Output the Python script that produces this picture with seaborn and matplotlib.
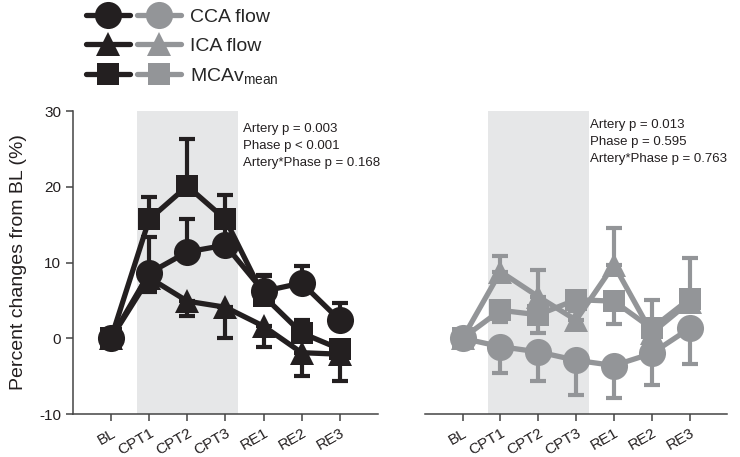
"""
Percent change from baseline across CPT and recovery phases
"""

import numpy as np
import pandas as pd
import matplotlib
matplotlib.use("Agg")
import matplotlib.pyplot as plt
from matplotlib.lines import Line2D
from matplotlib.legend_handler import HandlerTuple
import seaborn as sns

# --- data ---
phases = ["BL", "CPT1", "CPT2", "CPT3", "RE1", "RE2", "RE3"]

# left panel (black)
left_cca = [0, 8.6, 11.4, 12.3, 6.2, 7.3, 2.4]
left_cca_err = [0, 4.8, 4.4, 3.0, 2.0, 2.3, 2.3]      # upward
left_ica = [0, 8.0, 4.9, 4.1, 1.6, -1.9, -2.1]
left_ica_err = [0, 1.9, 2.0, 4.0, 2.7, 3.1, 3.5]       # downward
left_mca = [0, 15.7, 20.1, 15.7, 5.6, 0.7, -1.4]
left_mca_err = [0, 3.0, 6.2, 3.2, 2.7, 1.7, 1.0]       # upward

# right panel (gray)
right_cca = [0, -1.1, -1.8, -2.9, -3.6, -2.0, 1.3]
right_cca_err = [0, 3.5, 3.9, 4.6, 4.3, 4.2, 4.7]      # downward
right_ica = [0, 8.8, 5.5, 2.4, 9.7, 0.7, 4.8]
right_ica_err = [0, 2.0, 3.5, 1.5, 4.8, 4.4, 5.8]      # upward
right_mca = [0, 3.7, 3.1, 5.1, 4.9, 1.3, 5.2]
right_mca_err = [0, 1.5, 2.4, 1.5, 3.0, 1.0, 1.0]      # downward

left_stats = "Artery p = 0.003\nPhase p < 0.001\nArtery*Phase p = 0.168"
right_stats = "Artery p = 0.013\nPhase p = 0.595\nArtery*Phase p = 0.763"

BLACK = "#231f20"
GRAY = "#939598"
SHADE = "#e6e7e8"

sns.set_style("ticks")
plt.rcParams["font.family"] = ["Liberation Sans", "DejaVu Sans"]
plt.rcParams["mathtext.fontset"] = "custom"
plt.rcParams["mathtext.rm"] = "Liberation Sans"
plt.rcParams["mathtext.it"] = "Liberation Sans"
plt.rcParams["axes.unicode_minus"] = False

markers = {"CCA": "o", "ICA": "^", "MCA": "s"}
msizes = {"CCA": 19.5, "ICA": 17.5, "MCA": 16.5}
LW = 3.8


def draw_panel(ax, series, color, stats_text, text_xy):
    x = np.arange(len(phases))
    ax.axvspan(0.67, 3.33, color=SHADE, lw=0, zorder=0)

    # error bars (one-sided), drawn behind the lines
    for name, (vals, err, up) in series.items():
        vals = np.asarray(vals, float)
        err = np.asarray(err, float)
        yerr = [np.zeros_like(err), err] if up else [err, np.zeros_like(err)]
        ax.errorbar(x, vals, yerr=yerr, fmt="none", ecolor=color,
                    elinewidth=3, capsize=6, capthick=3, zorder=2)

    rows = []
    for name, (vals, err, up) in series.items():
        for i, v in enumerate(vals):
            rows.append({"x": i, "value": v, "measure": name})
    df = pd.DataFrame(rows)

    for name in series:
        sub = df[df["measure"] == name]
        sns.lineplot(data=sub, x="x", y="value", ax=ax, color=color,
                     lw=LW, marker=markers[name], markersize=msizes[name],
                     markeredgewidth=0, zorder=3, legend=False)

    ax.set_xlim(-1, 7)
    ax.set_ylim(-10, 30)
    ax.set_xticks(x)
    ax.set_xticklabels(phases, rotation=30, ha="right", rotation_mode="anchor",
                       fontsize=11)
    ax.set_xlabel("")
    ax.set_ylabel("")
    ax.tick_params(axis="both", direction="out", length=5, width=1.1,
                   color="#444444", labelsize=11, labelcolor="#231f20")
    ax.text(text_xy[0], text_xy[1], stats_text, fontsize=9.5, va="top",
            ha="left", linespacing=1.55, color="#231f20", zorder=5)
    for s in ax.spines.values():
        s.set_color("#444444")
        s.set_linewidth(1.1)


fig = plt.figure(figsize=(7.4, 4.57), dpi=100)
ax1 = fig.add_axes([0.0986, 0.094, 0.412, 0.663])
ax2 = fig.add_axes([0.574, 0.094, 0.409, 0.663])

draw_panel(ax1, {"CCA": (left_cca, left_cca_err, True),
                 "ICA": (left_ica, left_ica_err, False),
                 "MCA": (left_mca, left_mca_err, True)},
           BLACK, left_stats, (3.45, 28.4))
sns.despine(ax=ax1)
ax1.set_yticks([-10, 0, 10, 20, 30])
ax1.set_ylabel("Percent changes from BL (%)", fontsize=14, color="#231f20",
               labelpad=9)

draw_panel(ax2, {"CCA": (right_cca, right_cca_err, False),
                 "ICA": (right_ica, right_ica_err, True),
                 "MCA": (right_mca, right_mca_err, False)},
           GRAY, right_stats, (3.36, 29.0))
sns.despine(ax=ax2, left=True)
ax2.set_yticks([])

# legend: black + gray handle per row
handles = []
for name in ["CCA", "ICA", "MCA"]:
    hb = Line2D([], [], color=BLACK, lw=LW, marker=markers[name],
                markersize=msizes[name], markeredgewidth=0,
                solid_capstyle="round")
    hg = Line2D([], [], color=GRAY, lw=LW, marker=markers[name],
                markersize=msizes[name], markeredgewidth=0,
                solid_capstyle="round")
    handles.append((hb, hg))
labels = ["CCA flow", "ICA flow", r"MCAv$_{\mathrm{mean}}$"]
fig.legend(handles, labels, loc="upper left", bbox_to_anchor=(0.108, 0.994),
           frameon=False, fontsize=14, handlelength=4.9, handletextpad=0.45,
           labelspacing=0.56, borderaxespad=0, borderpad=0.3,
           handler_map={tuple: HandlerTuple(ndivide=None, pad=0.4)})

fig.savefig("out.png", dpi=100)
